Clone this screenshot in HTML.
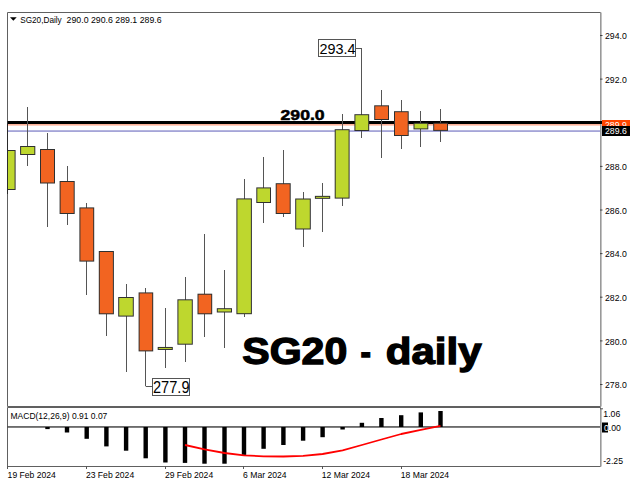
<!DOCTYPE html>
<html><head><meta charset="utf-8"><style>
html,body{margin:0;padding:0;background:#fff;}
svg{display:block;}
</style></head><body>
<svg width="631" height="482" viewBox="0 0 631 482" style="background:#fff">
<defs><clipPath id="cm"><rect x="7.5" y="12.5" width="593" height="394"/></clipPath><clipPath id="cs"><rect x="7.5" y="407.5" width="593" height="58.5"/></clipPath></defs>
<g fill="none" stroke="#606060" stroke-width="1">
<path d="M7.5 12.5H600.5V406.5H7.5Z"/>
<path d="M7.5 407.5H600.5V466.5H7.5Z"/>
</g>
<g clip-path="url(#cm)">
<rect x="7" y="121" width="594" height="3" fill="#000"/>
<rect x="7" y="124" width="594" height="1.6" fill="#FFB49B"/>
<rect x="7" y="130.5" width="594" height="1.1" fill="#6a6abe"/>
<rect x="7.0" y="124" width="1" height="70" fill="#555555"/>
<rect x="27.0" y="107" width="1" height="59" fill="#555555"/>
<rect x="47.0" y="133" width="1" height="94" fill="#555555"/>
<rect x="67.0" y="166" width="1" height="59" fill="#555555"/>
<rect x="86.0" y="203" width="1" height="92" fill="#555555"/>
<rect x="106.0" y="251" width="1" height="85" fill="#555555"/>
<rect x="126.0" y="284" width="1" height="88" fill="#555555"/>
<rect x="145.0" y="288" width="1" height="98" fill="#555555"/>
<rect x="165.0" y="308" width="1" height="60" fill="#555555"/>
<rect x="185.0" y="277" width="1" height="85" fill="#555555"/>
<rect x="204.0" y="234" width="1" height="103" fill="#555555"/>
<rect x="224.0" y="270" width="1" height="78" fill="#555555"/>
<rect x="244.0" y="179" width="1" height="138" fill="#555555"/>
<rect x="263.0" y="157" width="1" height="66" fill="#555555"/>
<rect x="283.0" y="150" width="1" height="67" fill="#555555"/>
<rect x="303.0" y="192" width="1" height="55" fill="#555555"/>
<rect x="322.0" y="183" width="1" height="49" fill="#555555"/>
<rect x="342.0" y="114" width="1" height="92" fill="#555555"/>
<rect x="361.0" y="48" width="1" height="90" fill="#555555"/>
<rect x="381.0" y="90" width="1" height="68" fill="#555555"/>
<rect x="401.0" y="100" width="1" height="49" fill="#555555"/>
<rect x="420.0" y="111" width="1" height="36" fill="#555555"/>
<rect x="440.0" y="109" width="1" height="33" fill="#555555"/>
<rect x="0" y="150.00" width="15.60" height="40.00" fill="#303030"/>
<rect x="1" y="151.00" width="13.60" height="38.00" fill="#BED72E"/>
<rect x="20.1" y="146.00" width="15.20" height="9.00" fill="#303030"/>
<rect x="21.1" y="147.00" width="13.20" height="7.00" fill="#BED72E"/>
<rect x="40" y="149.00" width="15.00" height="34.50" fill="#303030"/>
<rect x="41" y="150.00" width="13.00" height="32.50" fill="#F26421"/>
<rect x="59.6" y="181.00" width="15.10" height="33.00" fill="#303030"/>
<rect x="60.6" y="182.00" width="13.10" height="31.00" fill="#F26421"/>
<rect x="79.4" y="207.40" width="14.80" height="54.20" fill="#303030"/>
<rect x="80.4" y="208.40" width="12.80" height="52.20" fill="#F26421"/>
<rect x="98.8" y="251.00" width="15.10" height="63.30" fill="#303030"/>
<rect x="99.8" y="252.00" width="13.10" height="61.30" fill="#F26421"/>
<rect x="118.2" y="297.00" width="15.60" height="19.60" fill="#303030"/>
<rect x="119.2" y="298.00" width="13.60" height="17.60" fill="#BED72E"/>
<rect x="138.6" y="292.40" width="14.60" height="59.00" fill="#303030"/>
<rect x="139.6" y="293.40" width="12.60" height="57.00" fill="#F26421"/>
<rect x="157.7" y="346.95" width="15.10" height="3.00" fill="#303030"/>
<rect x="158.7" y="347.95" width="13.10" height="1.00" fill="#BED72E"/>
<rect x="177.4" y="299.30" width="15.40" height="45.40" fill="#303030"/>
<rect x="178.4" y="300.30" width="13.40" height="43.40" fill="#BED72E"/>
<rect x="197.5" y="293.70" width="14.70" height="20.60" fill="#303030"/>
<rect x="198.5" y="294.70" width="12.70" height="18.60" fill="#F26421"/>
<rect x="216.8" y="308.20" width="15.20" height="4.30" fill="#303030"/>
<rect x="217.8" y="309.20" width="13.20" height="2.30" fill="#BED72E"/>
<rect x="236.4" y="198.40" width="15.50" height="115.80" fill="#303030"/>
<rect x="237.4" y="199.40" width="13.50" height="113.80" fill="#BED72E"/>
<rect x="256.3" y="187.40" width="14.70" height="15.60" fill="#303030"/>
<rect x="257.3" y="188.40" width="12.70" height="13.60" fill="#BED72E"/>
<rect x="275.7" y="183.20" width="15.00" height="30.80" fill="#303030"/>
<rect x="276.7" y="184.20" width="13.00" height="28.80" fill="#F26421"/>
<rect x="295.2" y="198.50" width="15.60" height="31.00" fill="#303030"/>
<rect x="296.2" y="199.50" width="13.60" height="29.00" fill="#BED72E"/>
<rect x="314.9" y="195.85" width="15.30" height="3.00" fill="#303030"/>
<rect x="315.9" y="196.85" width="13.30" height="1.00" fill="#BED72E"/>
<rect x="334.7" y="129.20" width="14.90" height="69.40" fill="#303030"/>
<rect x="335.7" y="130.20" width="12.90" height="67.40" fill="#BED72E"/>
<rect x="354.4" y="114.20" width="14.80" height="16.80" fill="#303030"/>
<rect x="355.4" y="115.20" width="12.80" height="14.80" fill="#BED72E"/>
<rect x="374.2" y="105.30" width="14.80" height="14.70" fill="#303030"/>
<rect x="375.2" y="106.30" width="12.80" height="12.70" fill="#F26421"/>
<rect x="394" y="111.20" width="14.70" height="24.80" fill="#303030"/>
<rect x="395" y="112.20" width="12.70" height="22.80" fill="#F26421"/>
<rect x="413.5" y="122.80" width="14.80" height="6.60" fill="#303030"/>
<rect x="414.5" y="123.80" width="12.80" height="4.60" fill="#BED72E"/>
<rect x="433.2" y="122.80" width="14.80" height="8.10" fill="#303030"/>
<rect x="434.2" y="123.80" width="12.80" height="6.10" fill="#F26421"/>
</g>
<rect x="7" y="123" width="1" height="71" fill="#2a2a2a"/>
<path d="M145.7 386.5V386.5H152.5" fill="none" stroke="#555" stroke-width="1"/>
<rect x="152.5" y="378.5" width="37" height="17" fill="#fff" stroke="#555" stroke-width="1"/>
<text x="153" y="393.2" textLength="36.5" lengthAdjust="spacingAndGlyphs" style="font-family:'Liberation Sans',sans-serif;font-size:16px" fill="#000">277.9</text>
<path d="M356 48.5H361.9" fill="none" stroke="#555" stroke-width="1"/>
<rect x="318.5" y="39.5" width="37" height="17" fill="#fff" stroke="#555" stroke-width="1"/>
<text x="319.5" y="54.0" textLength="36" lengthAdjust="spacingAndGlyphs" style="font-family:'Liberation Sans',sans-serif;font-size:15px" fill="#000">293.4</text>
<text x="280.6" y="120.3" textLength="44" lengthAdjust="spacingAndGlyphs" style="font-family:'Liberation Sans',sans-serif;font-size:14.2px;font-weight:bold;stroke:#000;stroke-width:0.5px" fill="#000">290.0</text>
<text x="242.3" y="364" textLength="105" lengthAdjust="spacingAndGlyphs" style="font-family:'Liberation Sans',sans-serif;font-size:36.8px;font-weight:bold;stroke:#000;stroke-width:1.3px" fill="#000">SG20</text>
<text x="360.6" y="364" textLength="10.5" lengthAdjust="spacingAndGlyphs" style="font-family:'Liberation Sans',sans-serif;font-size:36.8px;font-weight:bold;stroke:#000;stroke-width:1.3px" fill="#000">-</text>
<text x="385.8" y="364" textLength="95.8" lengthAdjust="spacingAndGlyphs" style="font-family:'Liberation Sans',sans-serif;font-size:36.8px;font-weight:bold;stroke:#000;stroke-width:1.3px" fill="#000">daily</text>
<path d="M10 17.2H16.7L13.35 20.8Z" fill="#000"/>
<text x="20.2" y="23" textLength="41.5" lengthAdjust="spacingAndGlyphs" style="font-family:'Liberation Sans',sans-serif;font-size:9.2px" fill="#000">SG20,Daily</text>
<text x="66.6" y="23" textLength="95" lengthAdjust="spacingAndGlyphs" style="font-family:'Liberation Sans',sans-serif;font-size:9.2px" fill="#000">290.0 290.6 289.1 289.6</text>
<rect x="600" y="12.5" width="1.6" height="394" fill="#999"/>
<line x1="600" y1="35.5" x2="602.5" y2="35.5" stroke="#444" stroke-width="1"/>
<text x="605" y="39.2" textLength="21.77" lengthAdjust="spacingAndGlyphs" style="font-family:'Liberation Sans',sans-serif;font-size:9.2px" fill="#000">294.0</text>
<line x1="600" y1="79.1" x2="602.5" y2="79.1" stroke="#444" stroke-width="1"/>
<text x="605" y="82.8" textLength="21.77" lengthAdjust="spacingAndGlyphs" style="font-family:'Liberation Sans',sans-serif;font-size:9.2px" fill="#000">292.0</text>
<line x1="600" y1="122.8" x2="602.5" y2="122.8" stroke="#444" stroke-width="1"/>
<line x1="600" y1="166.4" x2="602.5" y2="166.4" stroke="#444" stroke-width="1"/>
<text x="605" y="170.1" textLength="21.77" lengthAdjust="spacingAndGlyphs" style="font-family:'Liberation Sans',sans-serif;font-size:9.2px" fill="#000">288.0</text>
<line x1="600" y1="210.0" x2="602.5" y2="210.0" stroke="#444" stroke-width="1"/>
<text x="605" y="213.7" textLength="21.77" lengthAdjust="spacingAndGlyphs" style="font-family:'Liberation Sans',sans-serif;font-size:9.2px" fill="#000">286.0</text>
<line x1="600" y1="253.6" x2="602.5" y2="253.6" stroke="#444" stroke-width="1"/>
<text x="605" y="257.3" textLength="21.77" lengthAdjust="spacingAndGlyphs" style="font-family:'Liberation Sans',sans-serif;font-size:9.2px" fill="#000">284.0</text>
<line x1="600" y1="297.2" x2="602.5" y2="297.2" stroke="#444" stroke-width="1"/>
<text x="605" y="300.9" textLength="21.77" lengthAdjust="spacingAndGlyphs" style="font-family:'Liberation Sans',sans-serif;font-size:9.2px" fill="#000">282.0</text>
<line x1="600" y1="340.9" x2="602.5" y2="340.9" stroke="#444" stroke-width="1"/>
<text x="605" y="344.6" textLength="21.77" lengthAdjust="spacingAndGlyphs" style="font-family:'Liberation Sans',sans-serif;font-size:9.2px" fill="#000">280.0</text>
<line x1="600" y1="384.5" x2="602.5" y2="384.5" stroke="#444" stroke-width="1"/>
<text x="605" y="388.2" textLength="21.77" lengthAdjust="spacingAndGlyphs" style="font-family:'Liberation Sans',sans-serif;font-size:9.2px" fill="#000">278.0</text>
<rect x="600" y="121" width="2" height="3" fill="#000"/>
<rect x="602" y="120" width="28" height="6" fill="#FF4500"/>
<text x="605" y="128.3" textLength="21.77" lengthAdjust="spacingAndGlyphs" style="font-family:'Liberation Sans',sans-serif;font-size:9.2px" fill="#fff">289.9</text>
<rect x="602" y="120" width="29" height="6" fill="none"/>
<rect x="602" y="126" width="28" height="10" fill="#000"/>
<text x="605" y="134.3" textLength="21.77" lengthAdjust="spacingAndGlyphs" style="font-family:'Liberation Sans',sans-serif;font-size:9.2px" fill="#fff">289.6</text>
<text x="10.5" y="418.5" textLength="96.86" lengthAdjust="spacingAndGlyphs" style="font-family:'Liberation Sans',sans-serif;font-size:9.2px" fill="#000">MACD(12,26,9) 0.91 0.07</text>
<g clip-path="url(#cs)">
<rect x="7" y="426.3" width="594" height="1.3" fill="#2e2e2e"/>
<rect x="45.30" y="427.00" width="4.4" height="2.10" fill="#000"/>
<rect x="64.80" y="427.00" width="4.4" height="5.50" fill="#000"/>
<rect x="84.50" y="427.00" width="4.4" height="11.80" fill="#000"/>
<rect x="104.20" y="427.00" width="4.4" height="19.40" fill="#000"/>
<rect x="123.90" y="427.00" width="4.4" height="23.70" fill="#000"/>
<rect x="143.50" y="427.00" width="4.4" height="31.30" fill="#000"/>
<rect x="163.20" y="427.00" width="4.4" height="35.50" fill="#000"/>
<rect x="182.80" y="427.00" width="4.4" height="35.90" fill="#000"/>
<rect x="202.30" y="427.00" width="4.4" height="36.70" fill="#000"/>
<rect x="222.30" y="427.00" width="4.4" height="36.70" fill="#000"/>
<rect x="241.80" y="427.00" width="4.4" height="27.90" fill="#000"/>
<rect x="261.40" y="427.00" width="4.4" height="21.80" fill="#000"/>
<rect x="281.20" y="427.00" width="4.4" height="18.00" fill="#000"/>
<rect x="300.90" y="427.00" width="4.4" height="13.70" fill="#000"/>
<rect x="320.40" y="427.00" width="4.4" height="10.20" fill="#000"/>
<rect x="340.40" y="427.00" width="4.4" height="2.50" fill="#000"/>
<rect x="359.70" y="422.80" width="4.4" height="4.20" fill="#000"/>
<rect x="379.20" y="418.00" width="4.4" height="9.00" fill="#000"/>
<rect x="399.00" y="415.20" width="4.4" height="11.80" fill="#000"/>
<rect x="418.60" y="412.40" width="4.4" height="14.60" fill="#000"/>
<rect x="438.30" y="411.00" width="4.4" height="16.00" fill="#000"/>
<polyline points="185.0,445 204.5,449.3 224.5,453 244.0,455.3 263.6,456.3 283.4,456.5 303.1,455.8 322.6,454 342.6,450.3 361.9,445 381.4,439.5 401.2,434 420.8,429.8 440.5,425.8" fill="none" stroke="#ff0000" stroke-width="1.8" stroke-linejoin="round"/>
</g>
<rect x="600" y="408.5" width="1.6" height="58" fill="#999"/>
<line x1="600" y1="408.8" x2="603" y2="408.8" stroke="#555" stroke-width="1"/>
<text x="603.3" y="417.0" textLength="16.93" lengthAdjust="spacingAndGlyphs" style="font-family:'Liberation Sans',sans-serif;font-size:9.2px" fill="#000">1.06</text>
<text x="604" y="430.5" textLength="16.93" lengthAdjust="spacingAndGlyphs" style="font-family:'Liberation Sans',sans-serif;font-size:9.2px" fill="#000">0.00</text>
<rect x="602" y="422.5" width="6" height="10" fill="#000"/>
<text x="604" y="430.5" textLength="4.84" lengthAdjust="spacingAndGlyphs" style="font-family:'Liberation Sans',sans-serif;font-size:9.2px" fill="#fff">0</text>
<text x="603.2" y="464.0" textLength="19.83" lengthAdjust="spacingAndGlyphs" style="font-family:'Liberation Sans',sans-serif;font-size:9.2px" fill="#000">-2.25</text>
<line x1="7.5" y1="466" x2="7.5" y2="469" stroke="#555" stroke-width="1"/>
<text x="7.6" y="477.6" textLength="48.30" lengthAdjust="spacingAndGlyphs" style="font-family:'Liberation Sans',sans-serif;font-size:9.2px" fill="#000">19 Feb 2024</text>
<line x1="86.5" y1="466" x2="86.5" y2="469" stroke="#555" stroke-width="1"/>
<text x="85.9" y="477.6" textLength="48.30" lengthAdjust="spacingAndGlyphs" style="font-family:'Liberation Sans',sans-serif;font-size:9.2px" fill="#000">23 Feb 2024</text>
<line x1="165.5" y1="466" x2="165.5" y2="469" stroke="#555" stroke-width="1"/>
<text x="164.9" y="477.6" textLength="48.30" lengthAdjust="spacingAndGlyphs" style="font-family:'Liberation Sans',sans-serif;font-size:9.2px" fill="#000">29 Feb 2024</text>
<line x1="243.5" y1="466" x2="243.5" y2="469" stroke="#555" stroke-width="1"/>
<text x="243.1" y="477.6" textLength="43.50" lengthAdjust="spacingAndGlyphs" style="font-family:'Liberation Sans',sans-serif;font-size:9.2px" fill="#000">6 Mar 2024</text>
<line x1="322.5" y1="466" x2="322.5" y2="469" stroke="#555" stroke-width="1"/>
<text x="321.8" y="477.6" textLength="48.29" lengthAdjust="spacingAndGlyphs" style="font-family:'Liberation Sans',sans-serif;font-size:9.2px" fill="#000">12 Mar 2024</text>
<line x1="401.5" y1="466" x2="401.5" y2="469" stroke="#555" stroke-width="1"/>
<text x="400.8" y="477.6" textLength="48.29" lengthAdjust="spacingAndGlyphs" style="font-family:'Liberation Sans',sans-serif;font-size:9.2px" fill="#000">18 Mar 2024</text>
</svg>
</body></html>
